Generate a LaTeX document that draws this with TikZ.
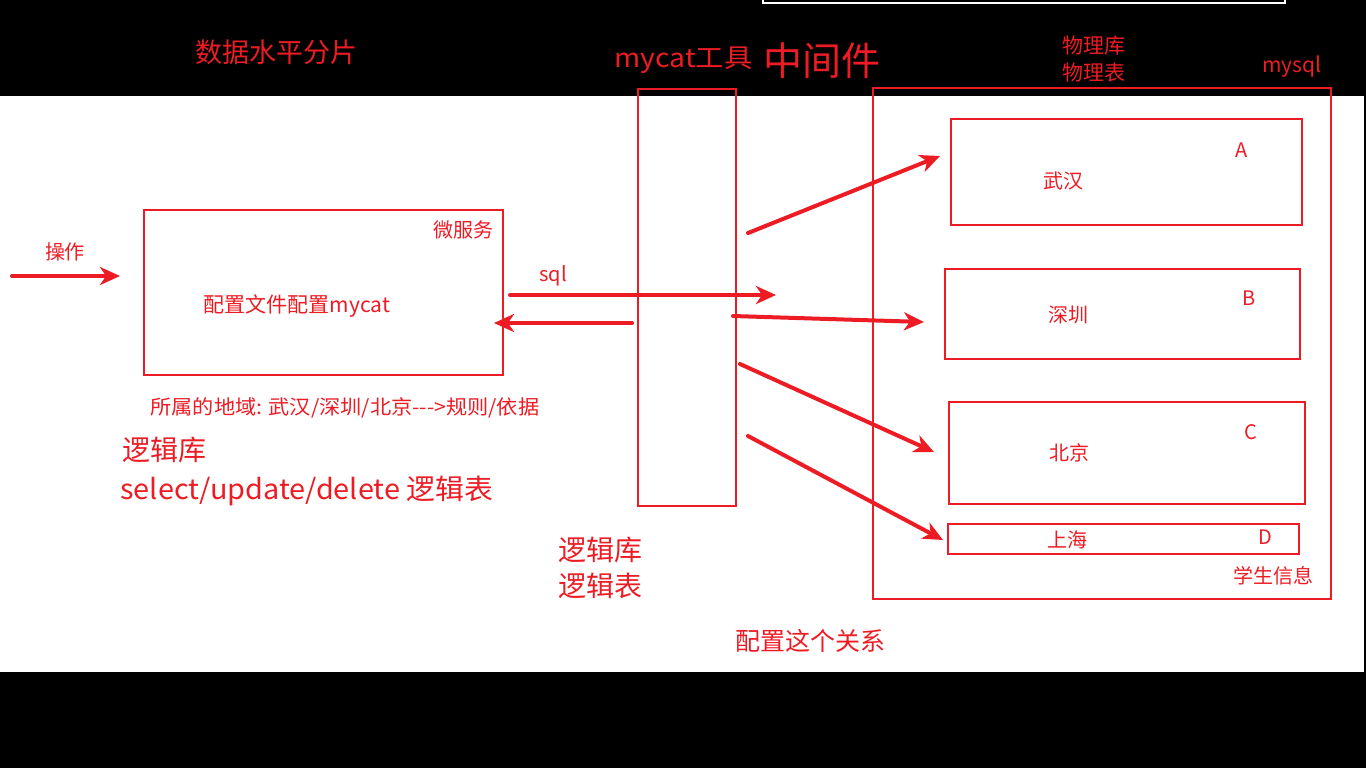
\documentclass[tikz,border=0pt]{standalone}
\usepackage{fontspec}
\usepackage{graphicx}
\setmainfont{Noto Sans CJK SC}
\usetikzlibrary{arrows.meta}
\definecolor{pred}{HTML}{ED1C24}
\tikzset{
  box/.style={draw=pred,line width=1pt},
  lbl/.style={text=pred,inner sep=0pt},
  arr/.style={draw=pred,line width=2pt,line cap=round,-{Stealth[length=10pt,width=9pt,inset=3pt]}},
}
\newcommand{\fsz}[1]{\fontsize{#1pt}{#1pt}\selectfont}
\begin{document}
\begin{tikzpicture}[x=0.5pt,y=-0.5pt]
\useasboundingbox (0,0) rectangle (1366,768);
% background bands
\fill[black] (0,0) rectangle (1366,768);
\fill[white] (0,96) rectangle (1364,672);
\draw[white,line width=1pt] (763,-2) rectangle (1285,3);
% titles
\node[lbl,font=\fsz{13.5}] (title) at (276,52) {数据水平分片};
\node[lbl,font=\fsz{13},anchor=west] (mycatlbl) at (614,60) {\scalebox{1.09}[1]{mycat工具}};
\node[lbl,font=\fsz{19.5},anchor=west] (mid) at (763,61) {中间件};
\node[lbl,font=\fsz{10.5},anchor=west] (wlk) at (1062,46) {物理库};
\node[lbl,font=\fsz{10.5},anchor=west] (wlb) at (1062,73) {物理表};
\node[lbl,font=\fsz{10.5}] (mysqllbl) at (1292,67) {mysql};
% boxes
\node[box,minimum width=229pt,minimum height=255.5pt,anchor=north west,inner sep=0pt] (mysql) at (872,87) {};
\node[box,minimum width=49pt,minimum height=208.5pt,anchor=north west,inner sep=0pt] (mycat) at (637,88) {};
\node[box,minimum width=179.5pt,minimum height=82.5pt,anchor=north west,inner sep=0pt] (ms) at (143,209) {};
\node[box,minimum width=175.5pt,minimum height=53pt,anchor=north west,inner sep=0pt] (A) at (950,118) {};
\node[box,minimum width=177.5pt,minimum height=45pt,anchor=north west,inner sep=0pt] (B) at (944,268) {};
\node[box,minimum width=178pt,minimum height=51pt,anchor=north west,inner sep=0pt] (C) at (948,401) {};
\node[box,minimum width=175.5pt,minimum height=15pt,anchor=north west,inner sep=0pt] (D) at (947,523) {};
% box labels
\node[lbl,font=\fsz{10}] (wfw) at (463,230) {微服务};
\node[lbl,font=\fsz{10.5}] (pz) at (297,306) {配置文件配置mycat};
\node[lbl,font=\fsz{10}] (wh) at (1063,181) {武汉};
\node[lbl,font=\fsz{10}] (la) at (1242,150) {A};
\node[lbl,font=\fsz{10}] (sz) at (1068,315) {深圳};
\node[lbl,font=\fsz{10}] (lb) at (1249,298) {B};
\node[lbl,font=\fsz{10}] (bj) at (1069,453) {北京};
\node[lbl,font=\fsz{10}] (lc) at (1251,432) {C};
\node[lbl,font=\fsz{10}] (sh) at (1067,540) {上海};
\node[lbl,font=\fsz{10}] (ld) at (1265,537) {D};
\node[lbl,font=\fsz{10}] (xs) at (1273,576) {学生信息};
% other texts
\node[lbl,font=\fsz{10}] (cz) at (65,252) {操作};
\node[lbl,font=\fsz{10}] (sqll) at (553,276) {sql};
\node[lbl,font=\fsz{10},anchor=west] (rule) at (150,408) {\scalebox{1.06}[1]{所属的地域: 武汉/深圳/北京{-}{-}{-}>规则/依据}};
\node[lbl,font=\fsz{14},anchor=west] (ljk1) at (122,450) {逻辑库};
\node[lbl,font=\fsz{14},anchor=west] (sud) at (120,491) {\scalebox{1.03}[1]{select/update/delete 逻辑表}};
\node[lbl,font=\fsz{14},anchor=west] (ljk2) at (558,550) {逻辑库};
\node[lbl,font=\fsz{14},anchor=west] (ljb2) at (558,586) {逻辑表};
\node[lbl,font=\fsz{12.5}] (gx) at (810,641) {配置这个关系};
% arrow end points
\coordinate (op1) at (12,276);
\coordinate (op2) at (120,276);
\coordinate (s1) at (510,295);
\coordinate (s2) at (776,295);
\coordinate (r1) at (632,323);
\coordinate (r2) at (494,323);
\coordinate (a1) at (748,233);
\coordinate (a2) at (940,156);
\coordinate (b1) at (733,316);
\coordinate (b2) at (924,322);
\coordinate (c1) at (740,364);
\coordinate (c2) at (934,452);
\coordinate (d1) at (748,436);
\coordinate (d2) at (943,540);
\draw[arr] (op1) -- (op2);
\draw[arr] (s1) -- (s2);
\draw[arr] (r1) -- (r2);
\draw[arr] (a1) -- (a2);
\draw[arr] (b1) -- (b2);
\draw[arr] (c1) -- (c2);
\draw[arr] (d1) -- (d2);
\end{tikzpicture}
\end{document}
